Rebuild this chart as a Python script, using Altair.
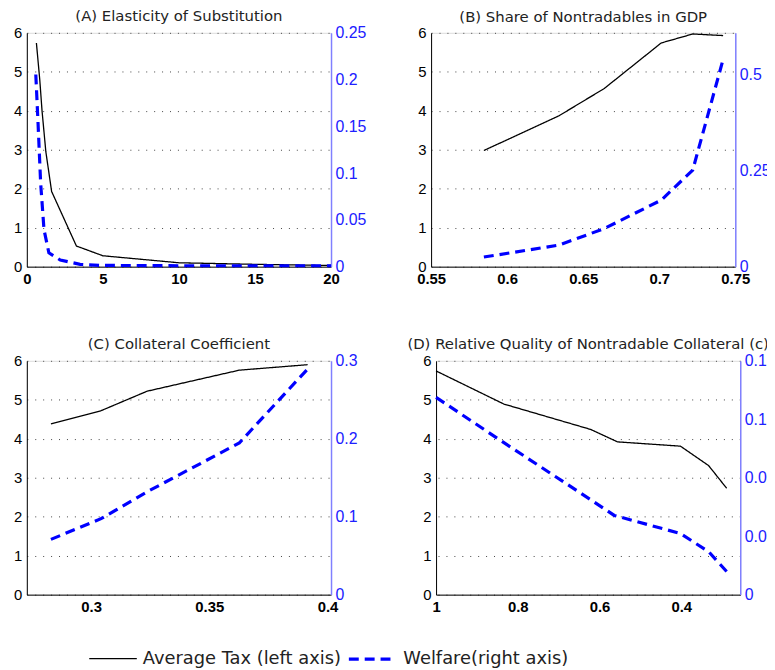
import altair as alt
import pandas as pd

TAX = "Average Tax (left axis)"
WEL = "Welfare(right axis)"

# Panel A: Elasticity of Substitution
a_tax_x = [0.63, 0.85, 1.0, 1.25, 1.63, 3.26, 5.0, 10.0, 15.0, 20.0]
a_tax_y = [5.74, 4.8, 4.0, 2.95, 1.93, 0.53, 0.28, 0.10, 0.06, 0.03]
a_wel_x = [0.59, 0.74, 0.91, 1.13, 1.45, 2.2, 3.5, 4.8, 10.0, 15.0, 20.0]
a_wel_y = [0.2055, 0.1525, 0.089, 0.0395, 0.0148, 0.0071, 0.0025, 0.0014, 0.001, 0.001, 0.001]

# Panel B: Share of Nontradables in GDP
b_tax_x = [0.5847, 0.634, 0.6638, 0.7013, 0.722, 0.742]
b_tax_y = [2.98, 3.87, 4.57, 5.74, 5.97, 5.93]
b_wel_x = [0.5847, 0.634, 0.6638, 0.7013, 0.722, 0.742]
b_wel_y = [0.025, 0.056, 0.099, 0.173, 0.251, 0.539]

# Panel C: Collateral Coefficient
c_tax_x = [0.283, 0.3042, 0.3237, 0.3627, 0.3916]
c_tax_y = [4.38, 4.72, 5.22, 5.76, 5.90]
c_wel_x = [0.283, 0.3042, 0.3237, 0.3627, 0.3916]
c_wel_y = [0.0709, 0.0975, 0.132, 0.1946, 0.2895]

# Panel D: Relative Quality of Nontradable Collateral
d_tax_x = [1.0, 0.834, 0.622, 0.556, 0.402, 0.333, 0.289]
d_tax_y = [5.74, 4.89, 4.24, 3.92, 3.81, 3.31, 2.73]
d_wel_x = [1.0, 0.834, 0.622, 0.564, 0.402, 0.333, 0.289]
d_wel_y = [0.135, 0.104, 0.065, 0.0542, 0.0418, 0.0294, 0.0158]

left_ticks = [0, 1, 2, 3, 4, 5, 6]

BLUE = "#0000ff"
TICKFONT = "Liberation Sans"
TITLEFONT = "DejaVu Sans"

legend_opts = dict(
    title=None, orient="none", direction="horizontal",
    legendX=62, legendY=606, symbolType="stroke", symbolSize=2304,
    symbolStrokeWidth=2.5, labelFontSize=18, labelFont=TITLEFONT,
    labelColor="#222", columnPadding=0, labelOffset=5, symbolOffset=0,
    labelLimit=400,
)
color = alt.Color(
    "series:N",
    scale=alt.Scale(domain=[TAX, WEL], range=["black", BLUE]),
    legend=alt.Legend(**legend_opts),
)
dash = alt.StrokeDash(
    "series:N",
    scale=alt.Scale(domain=[TAX, WEL], range=[[1, 0], [10, 6]]),
    legend=alt.Legend(**legend_opts),
)
swidth = alt.StrokeWidth(
    "series:N",
    scale=alt.Scale(domain=[TAX, WEL], range=[1.3, 3.2]),
    legend=None,
)


def panel(title, xdom, xticks, xrev, tx, ty, wx, wy, rdom, rticks):
    df_t = pd.DataFrame({"x": tx, "v": ty, "series": TAX})
    df_w = pd.DataFrame({"x": wx, "w": wy, "series": WEL})
    xenc = alt.X(
        "x:Q",
        scale=alt.Scale(domain=xdom, reverse=xrev, nice=False, zero=False),
        axis=alt.Axis(
            values=xticks, title=None, grid=False, ticks=False, format=".2~f",
            labelFont=TICKFONT, labelFontSize=15, labelFontWeight="bold",
            labelColor="black", domainColor="black", labelPadding=5,
            labelFlush=False,
        ),
    )
    tax = alt.Chart(df_t).mark_line().encode(
        x=xenc,
        y=alt.Y(
            "v:Q",
            scale=alt.Scale(domain=[0, 6], nice=False),
            axis=alt.Axis(
                orient="left", values=left_ticks, title=None, grid=True,
                gridDash=[1, 7], gridColor="#444", gridWidth=1, ticks=False,
                labelFont=TICKFONT, labelFontSize=15, labelColor="black",
                domainColor="black", labelPadding=5,
            ),
        ),
        color=color, strokeDash=dash, strokeWidth=swidth,
    )
    wel = alt.Chart(df_w).mark_line().encode(
        x=xenc,
        y=alt.Y(
            "w:Q",
            scale=alt.Scale(domain=rdom, nice=False),
            axis=alt.Axis(
                orient="right", values=rticks, title=None, grid=False,
                ticks=False, format=".2~f",
                labelFont=TICKFONT, labelFontSize=16, labelColor="#2020ff",
                domainColor="#8080ff", domainWidth=1.5, labelPadding=4,
            ),
        ),
        color=color, strokeDash=dash, strokeWidth=swidth,
    )
    return (
        alt.layer(tax, wel)
        .resolve_scale(y="independent")
        .properties(
            width=307, height=236,
            title=alt.TitleParams(
                title, font=TITLEFONT, fontSize=15, fontWeight="normal",
                color="#222", offset=1,
            ),
        )
    )


pA = panel("(A) Elasticity of Substitution", [0, 20], [0, 5, 10, 15, 20], False,
           a_tax_x, a_tax_y, a_wel_x, a_wel_y, [0, 0.25],
           [0, 0.05, 0.1, 0.15, 0.2, 0.25])
pB = panel("(B) Share of Nontradables in GDP", [0.55, 0.75],
           [0.55, 0.6, 0.65, 0.7, 0.75], False,
           b_tax_x, b_tax_y, b_wel_x, b_wel_y, [0, 0.608], [0, 0.25, 0.5])
pC = panel("(C) Collateral Coefficient", [0.2728, 0.4015], [0.3, 0.35, 0.4], False,
           c_tax_x, c_tax_y, c_wel_x, c_wel_y, [0, 0.3], [0, 0.1, 0.2, 0.3])
pD = panel("(D) Relative Quality of Nontradable Collateral (c)", [0.2557, 1.0],
           [1, 0.8, 0.6, 0.4], True,
           d_tax_x, d_tax_y, d_wel_x, d_wel_y, [0, 0.16],
           [0, 0.04, 0.08, 0.12, 0.16])

top = alt.hconcat(pA, pB, spacing=49)
bottom = alt.hconcat(pC, pD, spacing=49)
chart = (
    alt.vconcat(top, bottom, spacing=49)
    .resolve_scale(color="shared", strokeDash="shared", strokeWidth="shared")
    .configure_view(stroke=None)
    .configure(background="white",
               padding={"left": 5, "top": -3, "right": -9, "bottom": 0})
)

chart.save("out.html", embed_options={"renderer": "svg", "actions": False})
